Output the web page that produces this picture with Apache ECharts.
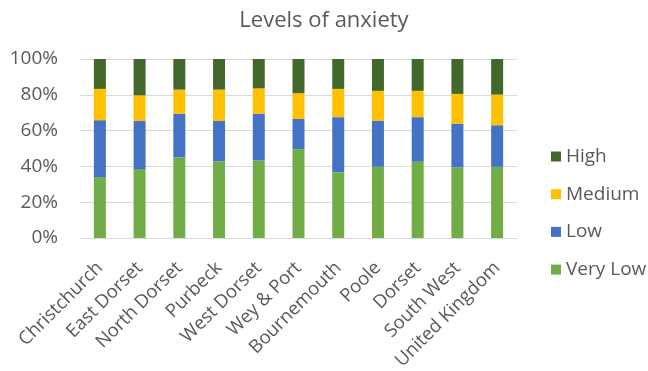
<!DOCTYPE html>
<html><head><meta charset="utf-8">
<script src="https://cdn.jsdelivr.net/npm/echarts@6/dist/echarts.min.js"></script>
<style>html,body{margin:0;padding:0;background:#fff}#c{width:648px;height:371px}</style>
</head><body><div id="c"></div>
<script>
const categories = ["Christchurch","East Dorset","North Dorset","Purbeck","West Dorset","Wey & Port","Bournemouth","Poole","Dorset","South West","United Kingdom"];
const veryLow = [34.0, 38.5, 45.0, 42.9, 43.3, 49.6, 36.8, 39.8, 42.6, 39.4, 39.8];
const low     = [31.8, 26.9, 24.5, 22.5, 26.2, 16.9, 30.7, 25.8, 24.9, 24.5, 23.2];
const medium  = [17.5, 14.3, 13.4, 17.5, 14.1, 14.4, 15.8, 16.6, 14.7, 16.6, 17.1];
const high    = [16.7, 20.3, 17.1, 17.1, 16.4, 19.1, 16.7, 17.8, 17.8, 19.5, 19.9];
const yTicks = ["0%","20%","40%","60%","80%","100%"];

const txt = '#595959';
const font = '"Open Sans", "Noto Sans", sans-serif';
function mk(name, data, color){
  return {name, type:'bar', stack:'all', data, barWidth:12, itemStyle:{color}, emphasis:{disabled:true}};
}
const chart = echarts.init(document.getElementById('c'), null, {renderer:'canvas'});
chart.setOption({
  animation:false,
  textStyle:{fontFamily:font},
  title:{text:'Levels of anxiety', left:'center', top:5, textStyle:{color:txt, fontSize:22, fontWeight:'normal', fontFamily:font}},
  grid:{left:80, right:131, top:59, bottom:133, containLabel:false, outerBoundsMode:'none'},
  legend:{orient:'vertical', left:546, top:142, itemWidth:10, itemHeight:10, itemGap:18.7,
    data:['High','Medium','Low','Very Low'],
    textStyle:{color:txt, fontSize:19, lineHeight:19, fontFamily:font, padding:[0,0,0,0]}, icon:'rect'},
  xAxis:{type:'category', data:categories,
    axisLine:{lineStyle:{color:'#D9D9D9', width:1}}, axisTick:{show:false},
    axisLabel:{rotate:45, color:txt, fontSize:18.5, fontFamily:font, margin:27, interval:0}},
  yAxis:{type:'value', min:0, max:100, interval:20,
    axisLabel:{formatter:(v)=>yTicks[Math.round(v/20)], color:txt, fontSize:19, fontFamily:font, margin:22},
    splitLine:{lineStyle:{color:'#D9D9D9', width:1}}, axisLine:{show:false}, axisTick:{show:false}},
  series:[mk('Very Low', veryLow, '#70AD47'), mk('Low', low, '#4472C4'), mk('Medium', medium, '#FFC000'), mk('High', high, '#43682B')]
});
</script></body></html>
